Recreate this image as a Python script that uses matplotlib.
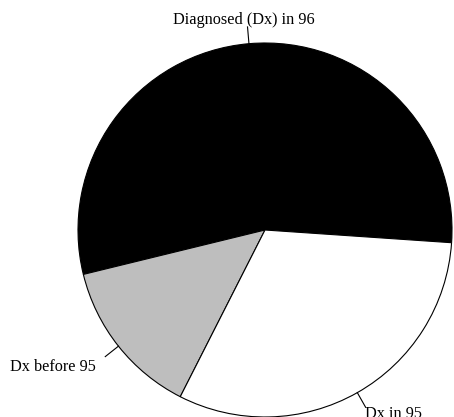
import numpy as np
import matplotlib.pyplot as plt

# Data
labels = ["Diagnosed (Dx) in 96", "Dx before 95", "Dx in 95"]
shares = [54.9, 13.7, 31.4]
colors = ["black", "#BEBEBE", "white"]

fig = plt.figure(figsize=(4.54, 4.17), dpi=100)
ax = fig.add_axes([0, 0, 1, 1])

wedges, _ = ax.pie(shares, colors=colors, startangle=-3.9, counterclock=True,
                   wedgeprops=dict(edgecolor="black", linewidth=0.8))

# labels with short tick lines, placed at the middle of each slice
for w, lab in zip(wedges, labels):
    a = np.deg2rad((w.theta1 + w.theta2) / 2)
    c, s = np.cos(a), np.sin(a)
    ax.plot([c, 1.09 * c], [s, 1.09 * s], color="black", lw=0.8)
    if abs(c) < 0.2:
        ha = "center"
    elif c > 0:
        ha = "left"
    else:
        ha = "right"
    va = "bottom" if s > 0 else "top"
    k = 1.085 if s > 0 else 1.08
    dx, dy = 0, 0
    if ha == "right":
        dx, dy = -0.06, -0.02
    elif ha == "center":
        dx = -0.02
    ax.text(k * c + dx, k * s + dy, lab, ha=ha, va=va,
            fontsize=11.7, family="Liberation Serif")

ax.set_xlim(-265 / 187, 189 / 187)
ax.set_ylim(-187 / 187, 230 / 187)
ax.axis("off")

fig.savefig("out.png", dpi=100)
